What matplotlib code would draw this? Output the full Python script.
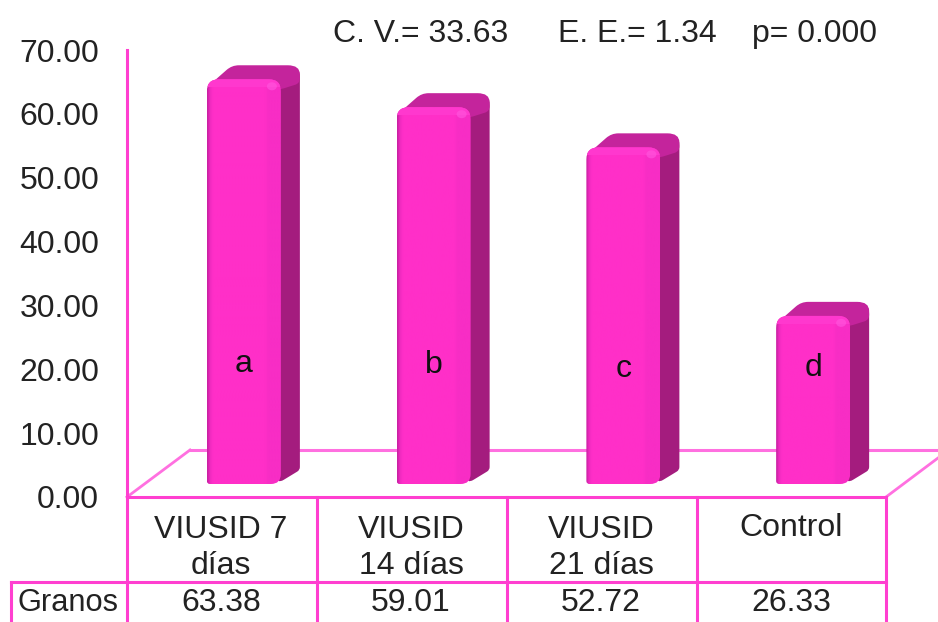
import matplotlib
matplotlib.use('Agg')
import matplotlib.pyplot as plt
import numpy as np
from matplotlib.colors import LinearSegmentedColormap
from matplotlib.patches import Ellipse, PathPatch, Rectangle
from matplotlib.path import Path
from matplotlib.transforms import Affine2D

plt.rcParams['font.family'] = ['Liberation Sans', 'DejaVu Sans']

categories = ['VIUSID 7\ndías', 'VIUSID\n14 días', 'VIUSID\n21 días', 'Control']
values = [63.38, 59.01, 52.72, 26.33]
value_labels = ['63.38', '59.01', '52.72', '26.33']
letters = ['a', 'b', 'c', 'd']
letter_heights = [20.9, 20.6, 20.1, 20.2]
y_ticks = [0, 10, 20, 30, 40, 50, 60, 70]
row_name = 'Granos'
stats = ['C. V.= 33.63', 'E. E.= 1.34', 'p= 0.000']

col_line = '#FF3FD0'
col_floor = '#FF70E0'
col_front = '#FF2FC8'
col_side = '#A41C7E'
col_top = '#C4249C'
col_text = '#222222'
font_size = 23

W, H = 938, 622
fig = plt.figure(figsize=(W / 100, H / 100), dpi=100)
ax = fig.add_axes([127 / W, 1 - 497 / H, (886 - 127) / W, (497 - 50) / H])
ax.set_xlim(-0.5, 3.5)
ax.set_ylim(0, 70)
ax.patch.set_visible(False)
for s in ax.spines.values():
    s.set_visible(False)

# pixel sized units, the bars are built in data units through these
ux = 4 / (886 - 127)
uy = 70 / (497 - 50)

# frame and table are drawn in pixels from the top left corner
px = Affine2D().scale(1 / W, -1 / H).translate(0, 1) + fig.transFigure


def line(xs, ys, c=col_line, lw=2.2, z=1):
    ax.add_line(plt.Line2D(xs, ys, color=c, lw=lw, transform=px, zorder=z, clip_on=False))


def rounded(pts, r):
    # closed polygon with each corner rounded by a quadratic curve, r is per corner in px
    verts, codes = [], []
    n = len(pts)
    scale = np.array([ux, uy])
    for i in range(n):
        p = np.array(pts[i])
        da = (np.array(pts[i - 1]) - p) / scale
        db = (np.array(pts[(i + 1) % n]) - p) / scale
        start = p + da / np.hypot(*da) * min(r[i], np.hypot(*da) / 2) * scale
        end = p + db / np.hypot(*db) * min(r[i], np.hypot(*db) / 2) * scale
        verts += [start, p, end]
        codes += [Path.LINETO if i else Path.MOVETO, Path.CURVE3, Path.CURVE3]
    verts.append(verts[0])
    codes.append(Path.CLOSEPOLY)
    return Path(verts, codes)


line([190, 938], [450, 450], c=col_floor)
line([127, 190], [497, 450], c=col_floor, lw=2)
line([886, 938], [497, 458], c=col_floor, lw=2)
line([127, 127], [50, 622])
line([127, 886], [497, 497])
line([11, 886], [582, 582])
line([11, 11], [582, 622])
for x in [317, 507, 697, 886]:
    line([x, x], [497, 622])

shade = LinearSegmentedColormap.from_list('shade', [(0, '#C81FA2'), (0.04, '#F02BC0'), (0.08, col_front),
                                                    (0.78, col_front), (0.82, '#F82DC5'), (1, '#F82DC5')])

base = 13 * uy
left_off = -0.079
bar_w = 74 * ux
dx = 19 * ux
dy = 14 * uy

for i, v in enumerate(values):
    l = i + left_off
    r = l + bar_w
    top = v + base
    # side face, then top face, then the front with its gradient
    side = rounded([(r - 4 * ux, base), (r + dx, base + dy), (r + dx, top + dy), (r - 3 * ux, top)], [8, 3, 12, 3])
    ax.add_patch(PathPatch(side, fc=col_side, ec='none', clip_on=False, zorder=3))
    cap = rounded([(l, top - 8 * uy), (l + dx + 6 * ux, top + dy), (r + dx, top + dy), (r + dx, top + dy - 18 * uy),
                   (r, top - 10 * uy)], [8, 7, 12, 5, 3])
    ax.add_patch(PathPatch(cap, fc=col_top, ec='none', clip_on=False, zorder=4))
    front = rounded([(l, base), (r, base), (r, top), (l, top)], [3, 10, 12, 12])
    patch = PathPatch(front, fc='none', ec='none', clip_on=False, zorder=5)
    ax.add_patch(patch)
    im = ax.imshow(np.linspace(0, 1, 200)[None, :], cmap=shade, aspect='auto', zorder=5,
                   extent=[l, r, base, top + 1])
    im.set_clip_path(patch)
    # lighter bevel along the upper edge of the front
    strip = Rectangle((l, top - 8 * uy), bar_w, 8 * uy, fc='#FF38CE', ec='none', zorder=5.1)
    ax.add_patch(strip)
    strip.set_clip_path(patch)
    ax.add_patch(Ellipse((r - 9 * ux, top - 7 * uy), 10 * ux, 8 * uy, fc='#FF52DC', ec='none', alpha=0.7,
                         clip_on=False, zorder=5.2))
    ax.text(l + 37 * ux, letter_heights[i], letters[i], fontsize=font_size, ha='center', va='center',
            color='#111111', zorder=6)

ax.set_xlim(-0.5, 3.5)
ax.set_ylim(0, 70)
ax.set_xticks([])
ax.set_yticks(y_ticks)
ax.set_yticklabels([f'{t:.2f}' for t in y_ticks], fontsize=font_size, color=col_text)
ax.tick_params(axis='y', length=0, pad=20)

# table text
for i, (c, t) in enumerate(zip(categories, value_labels)):
    fig.text((221 + 190 * i) / W, 1 - (528 if i == 3 else 548) / H, c, fontsize=font_size, color=col_text,
             ha='center', va='center', linespacing=1.3)
    fig.text((221 + 190 * i) / W, 1 - 603 / H, t, fontsize=font_size, color=col_text, ha='center', va='center')
fig.text(68 / W, 1 - 603 / H, row_name, fontsize=22.2, color=col_text, ha='center', va='center')

for s, x in zip(stats, [333, 558, 752]):
    fig.text(x / W, 1 - 34 / H, s, fontsize=font_size, color=col_text, ha='left', va='center')

fig.savefig('out.png', dpi=100)
